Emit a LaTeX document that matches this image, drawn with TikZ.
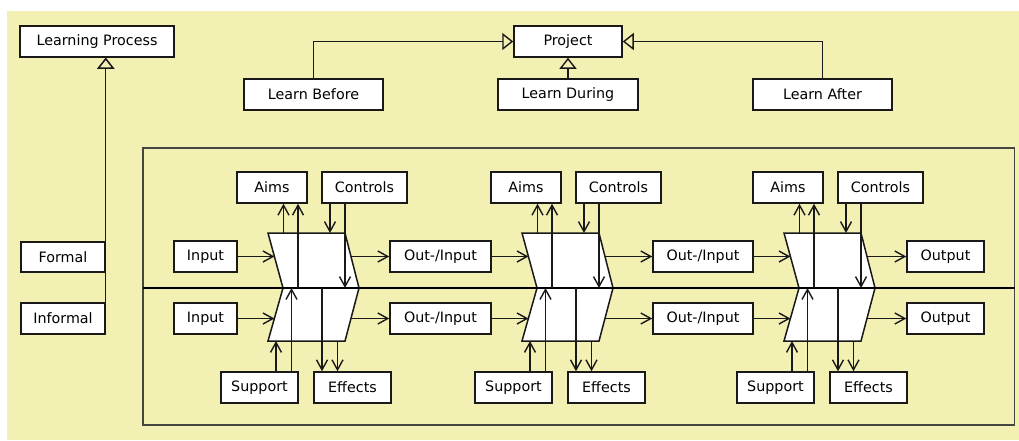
\documentclass[tikz,border=0pt]{standalone}
\usepackage{fontspec}
\setmainfont{DejaVu Sans}
\usetikzlibrary{arrows.meta}
\definecolor{bg}{RGB}{243,240,180}
\definecolor{ln}{RGB}{25,25,25}
\definecolor{fr}{RGB}{70,70,64}
\newcommand\bx[6]{\node[box, minimum width={(#4)-(#2)}, minimum height={(#5)-(#3)}] (#1) at ({((#2)+(#4))/2},{((#3)+(#5))/2}) {#6};}
\begin{document}
\begin{tikzpicture}[x=1pt,y=-1pt,
  box/.style={draw=ln, line width=1.5pt, fill=white, inner sep=0pt, font=\fontsize{14.3}{17}\selectfont},
  arr/.style={draw=ln, line width=1.4pt, -{Straight Barb[length=10pt,width=11pt,line width=1.4pt]}},
  gen/.style={draw=ln, line width=1.4pt, -{Triangle[fill=bg,length=11pt,width=17pt,line width=1.4pt]}},
  chev/.style={draw=ln, line width=1.5pt, fill=white, line join=miter},
]
\useasboundingbox (0,0) rectangle (1019,440);
\fill[bg] (7,11) rectangle (1019,440);

% top part
\bx{LP}{20}{26}{174}{57}{Learning Process}
\bx{P}{514}{26}{622}{57}{Project}
\bx{LB}{244}{79}{383}{110}{Learn Before}
\bx{LD}{498}{79}{638}{110}{Learn During}
\bx{LA}{753}{79}{892}{110}{Learn After}
\bx{F}{21}{242}{105}{272}{Formal}
\bx{I}{21}{303}{105}{334}{Informal}

\draw[gen] (LB.north) |- (P.west);
\draw[gen] (LA.north) |- (P.east);
\draw[gen] (LD.north) -- (P.south);
\draw[gen] (F.north east) -- (F.north east |- LP.south);
\draw[gen] (I.north east) -- (I.north east |- LP.south);

% frame
\draw[fr, line width=1.9pt] (143.3,148.3) rectangle (1014.5,425);

% process shapes
\foreach \X in {268,522,784}{
  \draw[chev] (\X,233) -- (\X+77,233) -- (\X+91,288) -- (\X+15,288) -- cycle;
  \draw[chev] (\X+15,288) -- (\X+91,288) -- (\X+77,341) -- (\X,341) -- cycle;
}
\draw[black, line width=2.5pt] (143.3,288) -- (1014.5,288);

% row boxes
\bx{inA}{174}{241}{237}{272}{Input}
\bx{inB}{174}{303}{237}{334}{Input}
\bx{oA1}{390}{241}{491}{272}{Out-/Input}
\bx{oB1}{390}{303}{491}{334}{Out-/Input}
\bx{oA2}{653}{241}{753}{272}{Out-/Input}
\bx{oB2}{653}{303}{753}{334}{Out-/Input}
\bx{oA3}{907}{241}{984}{272}{Output}
\bx{oB3}{907}{303}{984}{334}{Output}

\foreach \X/\i in {268/1,522/2,784/3}{
  \bx{aims\i}{\X-31}{172}{\X+39}{203}{Aims}
  \bx{ctrl\i}{\X+54}{172}{\X+139}{203}{Controls}
  \bx{sup\i}{\X-47}{372}{\X+30}{403}{Support}
  \bx{eff\i}{\X+46}{372}{\X+123}{403}{Effects}
  \coordinate (ta\i) at (\X+15.5,233);
  \coordinate (ma\i) at (\X+30,288);
  \coordinate (tc\i) at (\X+62,233);
  \coordinate (mc\i) at (\X+77,288);
  \coordinate (bs\i) at (\X+8,341);
  \coordinate (ms\i) at (\X+23.5,288);
  \coordinate (me\i) at (\X+54,288);
  \coordinate (be\i) at (\X+69.5,341);
  \coordinate (lA\i) at (\X+6.4,256.5);
  \coordinate (rA\i) at (\X+83,256.5);
  \coordinate (lB\i) at (\X+6.4,318.5);
  \coordinate (rB\i) at (\X+83,318.5);
  \draw[arr] (ta\i) -- (ta\i |- aims\i.south);
  \draw[arr] (ma\i) -- (ma\i |- aims\i.south);
  \draw[arr] (tc\i |- ctrl\i.south) -- (tc\i);
  \draw[arr] (mc\i |- ctrl\i.south) -- (mc\i);
  \draw[arr] (bs\i |- sup\i.north) -- (bs\i);
  \draw[arr] (ms\i |- sup\i.north) -- (ms\i);
  \draw[arr] (me\i) -- (me\i |- eff\i.north);
  \draw[arr] (be\i) -- (be\i |- eff\i.north);
  \draw[arr] (rA\i) -- (oA\i.west);
  \draw[arr] (rB\i) -- (oB\i.west);
}
\draw[arr] (inA.east) -- (lA1);
\draw[arr] (inB.east) -- (lB1);
\draw[arr] (oA1.east) -- (lA2);
\draw[arr] (oB1.east) -- (lB2);
\draw[arr] (oA2.east) -- (lA3);
\draw[arr] (oB2.east) -- (lB3);
\end{tikzpicture}
\end{document}
